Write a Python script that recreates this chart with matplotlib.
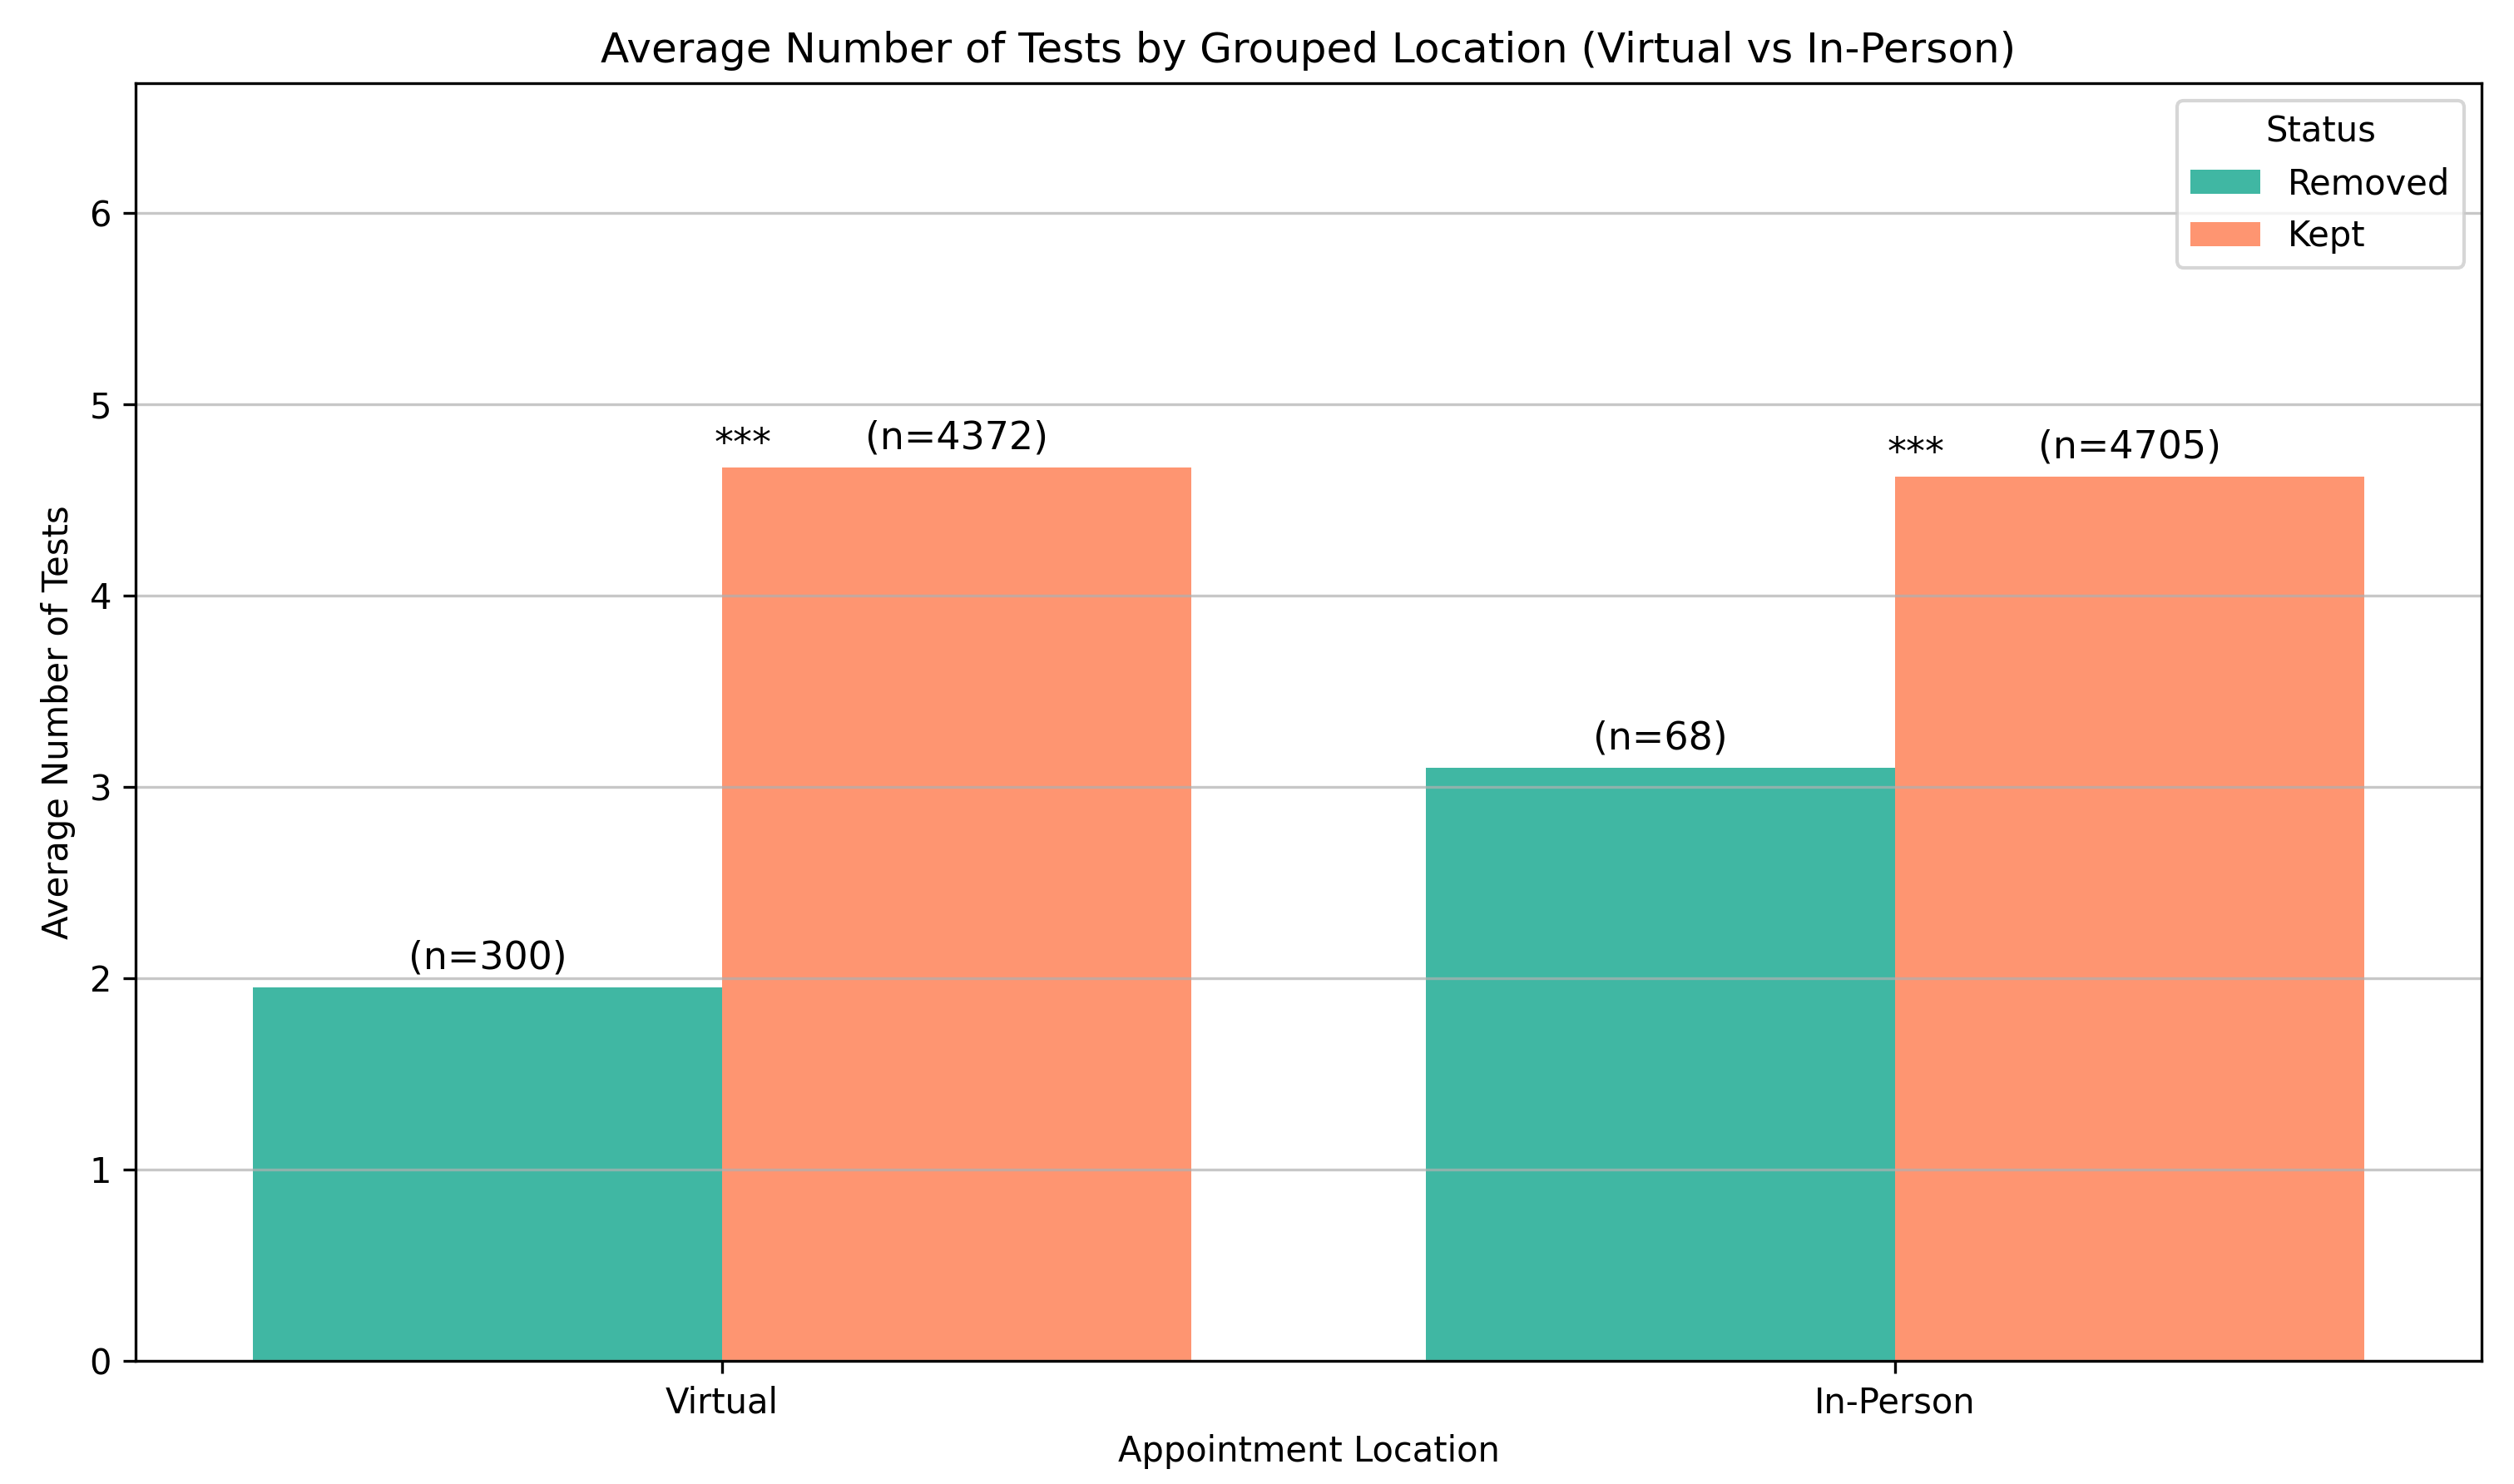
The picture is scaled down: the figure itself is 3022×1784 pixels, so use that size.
import numpy as np
import matplotlib.pyplot as plt

# data
locations = ['Virtual', 'In-Person']
statuses = ['Removed', 'Kept']
removed_means = [1.95, 3.10]
kept_means = [4.67, 4.62]
removed_n = [300, 68]
kept_n = [4372, 4705]
significance = ['***', '***']

colors = {'Removed': '#40b7a3', 'Kept': '#fe9571'}

dpi = 300
fig, ax = plt.subplots(figsize=(3022 / dpi, 1784 / dpi), dpi=dpi)
fig.subplots_adjust(left=0.054, right=0.987, top=0.944, bottom=0.083)

x = np.arange(len(locations))
width = 0.4

bars_removed = ax.bar(x - width / 2, removed_means, width, color=colors['Removed'], label='Removed')
bars_kept = ax.bar(x + width / 2, kept_means, width, color=colors['Kept'], label='Kept')

# sample size labels on top of each bar
for bars, ns in [(bars_removed, removed_n), (bars_kept, kept_n)]:
    for bar, n in zip(bars, ns):
        ax.annotate('(n={})'.format(n),
                    (bar.get_x() + bar.get_width() / 2, bar.get_height()),
                    xytext=(0, 3), textcoords='offset points',
                    ha='center', va='bottom', fontsize=11)

# significance stars between each pair
for i, star in enumerate(significance):
    top = max(removed_means[i], kept_means[i])
    ax.text(x[i] + 0.018, top + 0.12, star, ha='center', va='center', fontsize=11)

ax.set_xticks(x)
ax.set_xticklabels(locations)
ax.set_xlim(-0.5, len(locations) - 0.5)
ax.set_ylim(0, max(kept_means + removed_means) * 1.43)

ax.set_title('Average Number of Tests by Grouped Location (Virtual vs In-Person)', fontsize=12)
ax.set_xlabel('Appointment Location')
ax.set_ylabel('Average Number of Tests')
ax.grid(axis='y', alpha=0.7)
ax.legend(title='Status', loc='upper right')

plt.savefig('out.png', dpi=dpi)
